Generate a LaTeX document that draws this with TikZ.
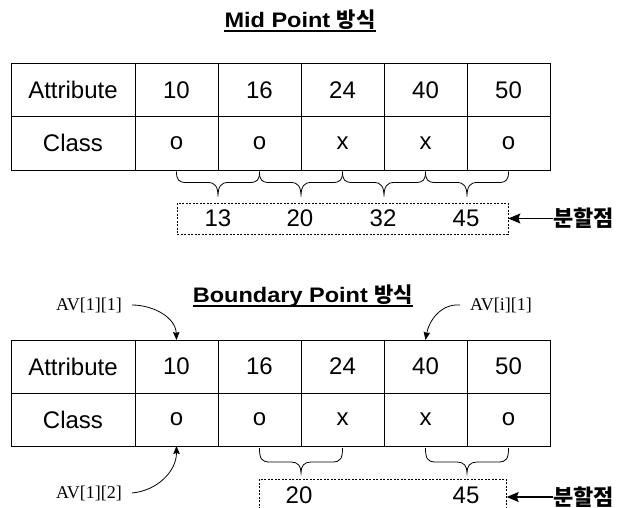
\documentclass[tikz,border=0pt]{standalone}
\usepackage{fontspec}
\setmainfont{Liberation Sans}
\newfontfamily\cellfont{Liberation Sans}
\newfontfamily\titlefont{Liberation Sans}[FakeStretch=1.12]
\newfontfamily\krfont{Noto Sans CJK KR}
\newfontfamily\avfont{Liberation Serif}
\usetikzlibrary{calc,arrows.meta}

\begin{document}
\begin{tikzpicture}[x=1pt,y=-1pt,
  cell/.style={draw, line width=0.9pt, inner sep=0pt, outer sep=0pt,
    minimum height=53.5, font=\cellfont\fontsize{24}{28}\selectfont},
  headcell/.style={cell, minimum width=124},
  valcell/.style={cell, minimum width=83},
  title/.style={inner sep=0pt, font=\titlefont\bfseries\fontsize{21}{25}\selectfont},
  uline/.style={line width=1.4pt},
  numlabel/.style={inner sep=0pt, font=\cellfont\fontsize{24}{28}\selectfont},
  splitbox/.style={draw, line width=0.7pt, dash pattern=on 2pt off 1.5pt, inner sep=0pt},
  splitlabel/.style={inner sep=0pt, font=\krfont\bfseries\fontsize{22}{26}\selectfont},
  splitarrow/.style={line width=1.1pt, -{Stealth[length=12pt,width=10pt,inset=2pt]}},
  avlabel/.style={inner sep=0pt, outer xsep=10pt, font=\avfont\fontsize{18}{22}\selectfont},
  avarrow/.style={line width=0.8pt, -{Stealth[length=8pt,width=6.5pt,inset=1pt]}},
  curlybrace/.style={line width=0.8pt, to path={
    let \p1=(\tikztostart), \p2=(\tikztotarget),
        \p3=($(\tikztostart)!0.5!(\tikztotarget)$) in
    (\p1) .. controls (\x1,{\y1-0.75*#1}) and ({\x1+2pt},{\y1-#1}) .. ({\x1+10pt},{\y1-#1})
    -- ({\x3-10pt},{\y1-#1})
    .. controls ({\x3-3pt},{\y1-#1}) and (\x3,{\y1-#1-4pt}) .. (\x3,{\y1-25pt})
    .. controls (\x3,{\y1-#1-4pt}) and ({\x3+3pt},{\y1-#1}) .. ({\x3+10pt},{\y1-#1})
    -- ({\x2-10pt},{\y1-#1})
    .. controls ({\x2-2pt},{\y1-#1}) and (\x2,{\y1-0.75*#1}) .. (\p2)}}
]
\useasboundingbox (0,0) rectangle (629,508);
\clip (0,0) rectangle (629,508);

% ---------- Mid Point ----------
\node[title, anchor=base] (ttop) at (300,27.5) {Mid Point {\krfont\bfseries 방식}};
\draw[uline] ([yshift=-3.5pt]ttop.base west) -- ([yshift=-3.5pt]ttop.base east);

\node[headcell] (ta0) at (73,89.75) {Attribute};
\node[headcell] (tc0) at (73,143.25) {Class};
\foreach \i/\xx/\v/\c in {1/176.5/10/o, 2/259.5/16/o, 3/342.5/24/x, 4/425.5/40/x, 5/508.5/50/o}{
  \node[valcell] (ta\i) at (\xx,89.75) {\v};
  \node[valcell] (tc\i) at (\xx,143.25) {\c};
}

\foreach \i/\j in {1/2, 2/3, 3/4, 4/5}
  \draw[curlybrace=11pt] ([yshift=-1.5pt]tc\i.south) to ([yshift=-1.5pt]tc\j.south);

\node[splitbox, minimum width=331, minimum height=31] (mbox) at (342.5,218.5) {};
\node[numlabel] (m1) at (218,218.5) {13};
\node[numlabel] (m2) at (300,218.5) {20};
\node[numlabel] (m3) at (383,218.5) {32};
\node[numlabel] (m4) at (466,218.5) {45};

\node[splitlabel, anchor=west] (split1) at (553,218.5) {분할점};
\draw[splitarrow] (split1.west) -- (split1.west -| mbox.east);

% ---------- Boundary Point ----------
\node[title, anchor=base] (tbot) at (303,302.5) {Boundary Point {\krfont\bfseries 방식}};
\draw[uline] ([yshift=-3.5pt]tbot.base west) -- ([yshift=-3.5pt]tbot.base east);

\node[headcell, minimum height=53] (ba0) at (73,366.5) {Attribute};
\node[headcell, minimum height=53] (bc0) at (73,419.5) {Class};
\foreach \i/\xx/\v/\c in {1/176.5/10/o, 2/259.5/16/o, 3/342.5/24/x, 4/425.5/40/x, 5/508.5/50/o}{
  \node[valcell, minimum height=53] (ba\i) at (\xx,366.5) {\v};
  \node[valcell, minimum height=53] (bc\i) at (\xx,419.5) {\c};
}

\node[avlabel] (av11) at (89,305) {AV[1][1]};
\node[avlabel] (avi1) at (501,305) {AV[i][1]};
\node[avlabel] (av12) at (89,493) {AV[1][2]};

\draw[avarrow] (av11.east) to[out=0, in=92] (ba1.north);
\draw[avarrow] (avi1.west) to[out=175, in=80] (ba4.north);
\draw[avarrow] (av12.east) to[out=5, in=-90] (bc1.south);

\draw[curlybrace=14pt] ([yshift=-2pt]bc2.south) to ([yshift=-2pt]bc3.south);
\draw[curlybrace=14pt] ([yshift=-2pt]bc4.south) to ([yshift=-2pt]bc5.south);

\node[splitbox, minimum width=247, minimum height=45, anchor=north west] (bbox) at (259,479) {};
\node[numlabel] (b1) at (299,495) {20};
\node[numlabel] (b2) at (466,495) {45};

\node[splitlabel, anchor=west] (split2) at (553,497) {분할점};
\draw[splitarrow] (split2.west) -- (split2.west -| bbox.east);
\end{tikzpicture}
\end{document}
